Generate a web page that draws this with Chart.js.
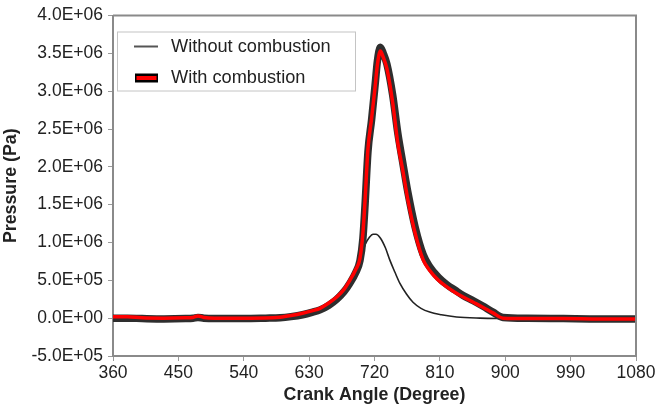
<!DOCTYPE html>
<html>
<head>
<meta charset="utf-8">
<script src="https://cdn.jsdelivr.net/npm/chart.js@4.4.0/dist/chart.umd.min.js"></script>
<style>
html,body{margin:0;padding:0;background:#fff}
canvas{display:block}
</style>
</head>
<body>
<canvas id="chart" width="658" height="406"></canvas>
<script>
// crank angle (deg) / pressure (Pa)
const combAngle = [360,380,400,430,460,470,477,485,500,540,570,590,605,621,635,645,657,668,678,686,694,700,704,707,711,716,721,724,728,732,737,745,752,759,766,776,787,796,808,820,831,842,856,869,883,897,930,980,1030,1080];
const combP     = [2e4,2e4,5e3,0,5e3,1e4,3e4,1e4,0,0,2e3,1.3e4,3.5e4,6.6e4,1.0e5,1.3e5,2.0e5,2.8e5,3.8e5,5.0e5,6.4e5,7.9e5,1.12e6,1.56e6,2.24e6,2.64e6,3.07e6,3.35e6,3.53e6,3.45e6,3.30e6,2.85e6,2.32e6,1.95e6,1.56e6,1.12e6,7.7e5,6.3e5,5.0e5,4.1e5,3.4e5,2.8e5,2.1e5,1.45e5,7e4,0,-5e3,-5e3,-1e4,-1e4];
// experimental points under the red curve (thick dark band)
const expP      = [0,0,-5e3,-1e4,-5e3,0,1e4,0,-5e3,-5e3,0,5e3,2e4,4.5e4,8e4,1.1e5,1.7e5,2.5e5,3.5e5,4.6e5,6.0e5,7.6e5,1.05e6,1.5e6,2.2e6,2.62e6,3.1e6,3.4e6,3.58e6,3.5e6,3.36e6,2.95e6,2.45e6,2.05e6,1.66e6,1.2e6,8.4e5,6.8e5,5.4e5,4.4e5,3.7e5,3.0e5,2.3e5,1.6e5,8e4,1e4,0,-5e3,-1e4,-1e4];
const motAngle  = [360,420,480,540,580,600,621,645,668,686,700,707,713,718,722,728,735,741,748,755,764,773,784,796,812,833,865,900,960,1020,1080];
const motP      = [-5e3,-5e3,-5e3,-5e3,0,1.5e4,4.5e4,1.1e5,2.5e5,4.6e5,7.4e5,9.7e5,1.07e6,1.11e6,1.11e6,1.06e6,9.3e5,7.7e5,6.1e5,4.6e5,3.2e5,2.1e5,1.3e5,8e4,4.5e4,1.5e4,0,-5e3,-1e4,-1e4,-1e4];
const xTicks = [360,450,540,630,720,810,900,990,1080];

const FONT = "'Liberation Sans', Arial, sans-serif";

function pts(xs, ys){ return xs.map((x,i)=>({x:x, y:ys[i]})); }

function sci(v){
  if(v===0) return "0.0E+00";
  const e = Math.floor(Math.log10(Math.abs(v)) + 1e-9);
  const m = v/Math.pow(10,e);
  return m.toFixed(1) + "E" + (e<0?"-":"+") + String(Math.abs(e)).padStart(2,"0");
}

const frame = {
  id:"frame",
  afterDatasetsDraw(chart){
    const {ctx, chartArea:a} = chart;
    ctx.save();
    ctx.strokeStyle = "#8a8a8a";
    ctx.lineWidth = 2;
    ctx.beginPath();
    ctx.moveTo(a.left, a.top); ctx.lineTo(a.right, a.top); ctx.lineTo(a.right, a.bottom);
    ctx.stroke();
    ctx.restore();
  }
};

const legendBox = {
  id:"legendBox",
  afterDraw(chart){
    const ctx = chart.ctx;
    const a = chart.chartArea;
    const x0 = a.left + 4, y0 = a.top + 16;
    ctx.save();
    ctx.fillStyle = "#fff";
    ctx.fillRect(x0, y0, 238, 59);
    ctx.strokeStyle = "#c4c4c4";
    ctx.lineWidth = 1;
    ctx.strokeRect(x0+0.5, y0+0.5, 238, 59);
    ctx.font = "18.2px " + FONT;
    ctx.textBaseline = "middle";
    ctx.fillStyle = "#222";
    // without combustion
    ctx.strokeStyle = "#555";
    ctx.lineWidth = 2;
    ctx.beginPath(); ctx.moveTo(x0+17, y0+15); ctx.lineTo(x0+41, y0+15); ctx.stroke();
    ctx.fillText(chart.data.datasets[2].label, x0+54, y0+15);
    // with combustion
    ctx.fillStyle = "#000";
    ctx.fillRect(x0+18, y0+42, 23, 9);
    ctx.fillStyle = "#ff0000";
    ctx.fillRect(x0+19.5, y0+44.5, 20, 4);
    ctx.fillStyle = "#222";
    ctx.fillText(chart.data.datasets[0].label, x0+54, y0+46);
    ctx.restore();
  }
};

new Chart(document.getElementById("chart"), {
  type:"line",
  data:{
    datasets:[{
      label:"With combustion",
      data:pts(combAngle, combP),
      borderColor:"#ff0000",
      borderWidth:3.5,
      pointRadius:0,
      cubicInterpolationMode:"monotone",
      order:0
    },{
      label:"Experiment",
      data:pts(combAngle, expP),
      borderColor:"#2e2e2e",
      borderWidth:7.5,
      pointRadius:0,
      cubicInterpolationMode:"monotone",
      order:1
    },{
      label:"Without combustion",
      data:pts(motAngle, motP),
      borderColor:"#222",
      borderWidth:1.6,
      pointRadius:0,
      cubicInterpolationMode:"monotone",
      order:2
    }]
  },
  options:{
    responsive:false,
    animation:false,
    layout:{padding:{top:15, right:22, left:0, bottom:0}},
    plugins:{legend:{display:false}, tooltip:{enabled:false}},
    scales:{
      x:{
        type:"linear",
        min:360, max:1080,
        afterBuildTicks(s){ s.ticks = xTicks.map(v=>({value:v})); },
        afterFit(s){ s.height = 50; },
        border:{color:"#8a8a8a", width:2},
        grid:{drawOnChartArea:false, tickLength:5, color:"#9a9a9a"},
        ticks:{font:{family:FONT, size:17.5}, color:"#222", padding:2, maxRotation:0, callback:v=>String(v)},
        title:{display:true, text:"Crank Angle (Degree)", font:{family:FONT, size:17.8, weight:"bold"}, color:"#222", padding:{top:0, bottom:0}}
      },
      y:{
        min:-5e5, max:4e6,
        ticks:{stepSize:5e5, callback:v=>sci(v), font:{family:FONT, size:17.5}, color:"#222", padding:5},
        afterFit(s){ s.width = 113; },
        border:{color:"#8a8a8a", width:2},
        grid:{drawOnChartArea:false, tickLength:5, color:"#9a9a9a"},
        title:{display:true, text:"Pressure (Pa)", font:{family:FONT, size:17.8, weight:"bold"}, color:"#222", padding:{top:0, bottom:2}}
      }
    }
  },
  plugins:[frame, legendBox]
});
</script>
</body>
</html>
